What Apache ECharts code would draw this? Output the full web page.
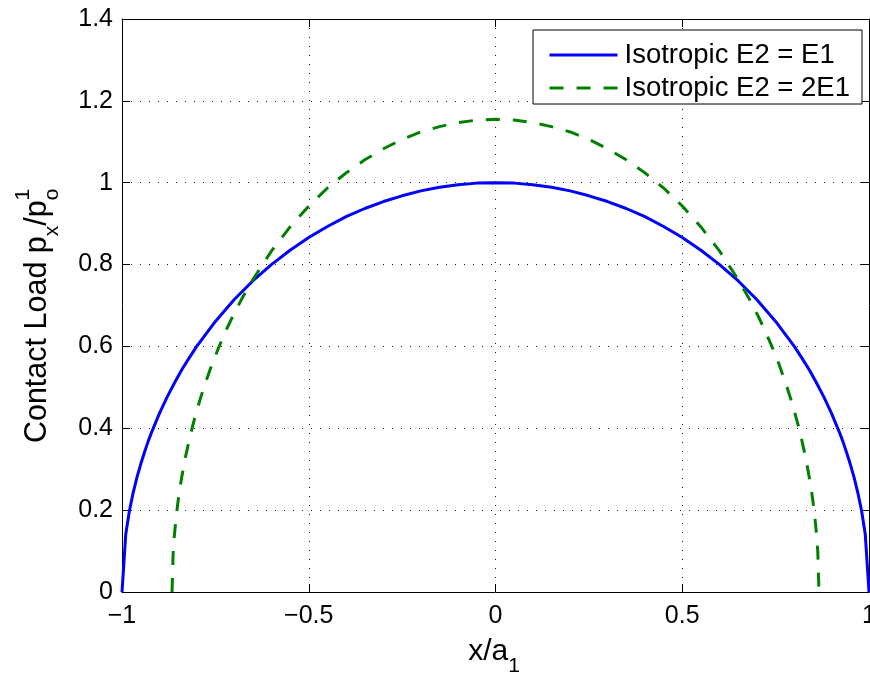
<!DOCTYPE html>
<html>
<head>
<meta charset="utf-8">
<script src="https://cdn.jsdelivr.net/npm/echarts@6/dist/echarts.min.js"></script>
<style>html,body{margin:0;padding:0;background:#fff}#c{width:870px;height:673px}</style>
</head>
<body>
<div id="c"></div>
<script>
var seriesNames = ['Isotropic E2 = E1', 'Isotropic E2 = 2E1'];
var xTicks = [-1, -0.5, 0, 0.5, 1];
var yTicks = [0, 0.2, 0.4, 0.6, 0.8, 1, 1.2, 1.4];

var blueX = [-1, -0.99, -0.98, -0.97, -0.96, -0.95, -0.94, -0.93, -0.92, -0.9, -0.88, -0.86, -0.84, -0.82, -0.8, -0.75, -0.7, -0.65, -0.6, -0.55, -0.5, -0.45, -0.4, -0.35, -0.3, -0.25, -0.2, -0.15, -0.1, -0.05, 0,
  0.05, 0.1, 0.15, 0.2, 0.25, 0.3, 0.35, 0.4, 0.45, 0.5, 0.55, 0.6, 0.65, 0.7, 0.75, 0.8, 0.82, 0.84, 0.86, 0.88, 0.9, 0.92, 0.93, 0.94, 0.95, 0.96, 0.97, 0.98, 0.99, 1];
var blueY = [0, 0.141, 0.199, 0.243, 0.280, 0.312, 0.341, 0.368, 0.392, 0.436, 0.475, 0.510, 0.543, 0.572, 0.600, 0.661, 0.714, 0.760, 0.800, 0.835, 0.866, 0.893, 0.917, 0.937, 0.954, 0.968, 0.980, 0.989, 0.995, 0.999, 1.000,
  0.999, 0.995, 0.989, 0.980, 0.968, 0.954, 0.937, 0.917, 0.893, 0.866, 0.835, 0.800, 0.760, 0.714, 0.661, 0.600, 0.572, 0.543, 0.510, 0.475, 0.436, 0.392, 0.368, 0.341, 0.312, 0.280, 0.243, 0.199, 0.141, 0];

var greenX = [-0.866, -0.863, -0.86, -0.855, -0.85, -0.845, -0.84, -0.83, -0.82, -0.81, -0.8, -0.79, -0.78, -0.76, -0.74, -0.72, -0.7, -0.68, -0.65, -0.6, -0.55, -0.5, -0.45, -0.4, -0.35, -0.3, -0.25, -0.2, -0.15, -0.1, -0.05, 0,
  0.05, 0.1, 0.15, 0.2, 0.25, 0.3, 0.35, 0.4, 0.45, 0.5, 0.55, 0.6, 0.65, 0.68, 0.7, 0.72, 0.74, 0.76, 0.78, 0.79, 0.8, 0.81, 0.82, 0.83, 0.84, 0.845, 0.85, 0.855, 0.86, 0.863, 0.866];
var greenY = [0, 0.096, 0.136, 0.183, 0.221, 0.253, 0.281, 0.330, 0.371, 0.409, 0.442, 0.473, 0.502, 0.554, 0.600, 0.642, 0.680, 0.715, 0.763, 0.833, 0.892, 0.943, 0.987, 1.024, 1.056, 1.083, 1.106, 1.124, 1.137, 1.147, 1.153, 1.155,
  1.153, 1.147, 1.137, 1.124, 1.106, 1.083, 1.056, 1.024, 0.987, 0.943, 0.892, 0.833, 0.763, 0.715, 0.680, 0.642, 0.600, 0.554, 0.502, 0.473, 0.442, 0.409, 0.371, 0.330, 0.281, 0.253, 0.221, 0.183, 0.136, 0.096, 0];

function pairs(xs, ys) { return xs.map(function (x, i) { return [x, ys[i]]; }); }
function fmt(v) { var s = String(Math.round(v * 100) / 100); return s.replace('-', '\u2212'); }

var FONT = 'Liberation Sans, Arial, Helvetica, sans-serif';
var chart = echarts.init(document.getElementById('c'), null, { renderer: 'canvas' });

var gridLine = { show: true, lineStyle: { color: '#222', width: 1, type: [1, 8] } };
var axisLine = { show: true, onZero: false, lineStyle: { color: '#000', width: 1 } };
var tick = { show: true, inside: true, length: 8, lineStyle: { color: '#000' } };

chart.setOption({
  animation: false,
  backgroundColor: '#fff',
  textStyle: { fontFamily: FONT },
  grid: { left: 122, right: 1, top: 19, bottom: 81, containLabel: false, outerBoundsMode: 'none' },
  xAxis: [{
    type: 'value', min: xTicks[0], max: xTicks[xTicks.length - 1], interval: 0.5,
    axisLine: axisLine, axisTick: tick,
    axisLabel: { color: '#000', fontSize: 25, fontFamily: FONT, margin: 12, formatter: fmt },
    splitLine: gridLine
  }, {
    type: 'value', position: 'top', min: xTicks[0], max: xTicks[xTicks.length - 1], interval: 0.5,
    axisLine: axisLine, axisTick: tick,
    axisLabel: { show: false }, splitLine: { show: false }
  }],
  yAxis: [{
    type: 'value', min: yTicks[0], max: yTicks[yTicks.length - 1], interval: 0.2,
    axisLine: axisLine, axisTick: tick,
    axisLabel: { color: '#000', fontSize: 25, fontFamily: FONT, margin: 9, formatter: fmt },
    splitLine: gridLine
  }, {
    type: 'value', position: 'right', min: yTicks[0], max: yTicks[yTicks.length - 1], interval: 0.2,
    axisLine: axisLine, axisTick: tick,
    axisLabel: { show: false }, splitLine: { show: false }
  }],
  legend: {
    orient: 'vertical', right: 8, top: 30,
    data: seriesNames,
    itemWidth: 68, itemHeight: 4, itemGap: 3,
    padding: [10, 12, 1, 15],
    borderColor: '#000', borderWidth: 1, backgroundColor: '#fff',
    itemStyle: { opacity: 0 },
    lineStyle: { width: 3 },
    textStyle: { color: '#000', fontSize: 27.5, fontFamily: FONT, lineHeight: 30, padding: [0, 0, 0, 2] }
  },
  series: [{
    name: seriesNames[0], type: 'line', data: pairs(blueX, blueY),
    showSymbol: false, symbol: 'none', smooth: false,
    lineStyle: { color: '#0000ff', width: 3 }, itemStyle: { color: '#0000ff' }, z: 3
  }, {
    name: seriesNames[1], type: 'line', data: pairs(greenX, greenY),
    showSymbol: false, symbol: 'none', smooth: false,
    lineStyle: { color: '#008000', width: 3, type: [14, 13] }, itemStyle: { color: '#008000' }, z: 3
  }],
  graphic: [{
    type: 'text', x: 38, y: 316, rotation: Math.PI / 2,
    style: {
      text: '{a|Contact Load p}{sb|x}{a|/p}{sb|o}{sp|1}',
      align: 'center', verticalAlign: 'middle', fill: '#000', fontFamily: FONT,
      rich: {
        a: { fontSize: 30.5, fontFamily: FONT, lineHeight: 50, verticalAlign: 'middle' },
        sb: { fontSize: 21, fontFamily: FONT, lineHeight: 28, verticalAlign: 'bottom' },
        sp: { fontSize: 21, fontFamily: FONT, lineHeight: 28, verticalAlign: 'top', padding: [0, 0, 0, -12] }
      }
    }
  }, {
    type: 'text', x: 494, y: 652,
    style: {
      text: '{a|x/a}{sb|1}',
      align: 'center', verticalAlign: 'middle', fill: '#000', fontFamily: FONT,
      rich: {
        a: { fontSize: 30, fontFamily: FONT, lineHeight: 50, verticalAlign: 'middle' },
        sb: { fontSize: 21, fontFamily: FONT, lineHeight: 28, verticalAlign: 'bottom' }
      }
    }
  }]
});
</script>
</body>
</html>
